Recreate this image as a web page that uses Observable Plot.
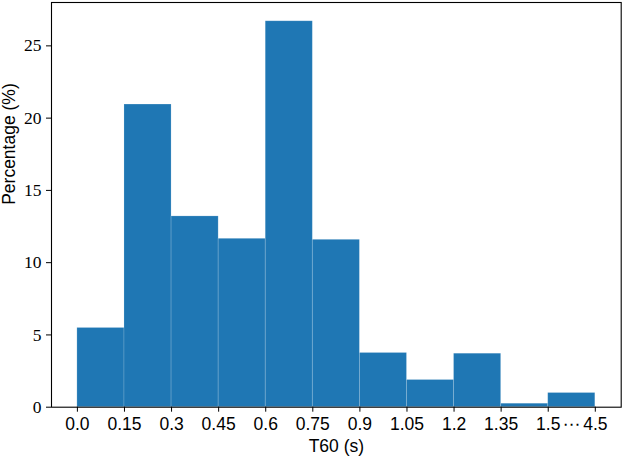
<!DOCTYPE html>
<html>
<head>
<meta charset="utf-8">
<script src="https://cdn.jsdelivr.net/npm/d3@7"></script>
<script src="https://cdn.jsdelivr.net/npm/@observablehq/plot@0.6"></script>
<style>
  body { margin: 0; background: #fff; }
  svg { display: block; }
</style>
</head>
<body>
<div id="chart"></div>
<script>
// Bin edge labels (the last bin spans 1.5 to 4.5)
const edgeLabels = ["0.0","0.15","0.3","0.45","0.6","0.75","0.9","1.05","1.2","1.35","1.5","4.5"];
// Percentage of samples per bin
const percentages = [5.48, 20.94, 13.2, 11.65, 26.7, 11.58, 3.75, 1.88, 3.70, 0.24, 0.98];
const yTicks = [0, 5, 10, 15, 20, 25];

const bins = percentages.map((v, i) => ({x1: i, x2: i + 1, y: v}));
const nEdges = edgeLabels.length;

const chart = Plot.plot({
  width: 622,
  height: 458,
  marginLeft: 51,
  marginRight: 1.3,
  marginTop: 2,
  marginBottom: 51.3,
  style: {background: "#fff", color: "#000"},
  x: {domain: [-0.55, nEdges - 1 + 0.55]},
  y: {domain: [0, 28]},
  marks: [
    Plot.rectY(bins, {x1: "x1", x2: "x2", y: "y", fill: "#1f77b4", stroke: "#ffffff", strokeOpacity: 0.2, strokeWidth: 0.8}),
    Plot.axisX(d3.range(nEdges), {
      tickFormat: i => edgeLabels[i],
      tickSize: 5, tickPadding: 5, fontSize: 17.5,
      fontFamily: "Liberation Sans, Arial, sans-serif", label: null, stroke: "#000"
    }),
    Plot.text(["\u22EF"], {x: nEdges - 1, frameAnchor: "bottom", dy: 17, dx: -15, textAnchor: "end", text: d => d, fontSize: 17.5, fontFamily: "DejaVu Sans, sans-serif", lineAnchor: "middle", clip: false}),
    Plot.axisY(yTicks, {
      tickSize: 5, tickPadding: 5, fontSize: 17.5,
      fontFamily: "Liberation Serif, 'DejaVu Serif', serif", label: null, stroke: "#000"
    }),
    Plot.text(["Percentage (%)"], {frameAnchor: "left", rotate: -90, dx: -42, text: d => d, fontSize: 17.5, fontFamily: "Liberation Sans, Arial, sans-serif", lineAnchor: "middle"}),
    Plot.text(["T60 (s)"], {frameAnchor: "bottom", dy: 39, text: d => d, fontSize: 17.5, fontFamily: "Liberation Sans, Arial, sans-serif", lineAnchor: "middle"}),
    Plot.frame({stroke: "#000", strokeWidth: 1.1})
  ]
});
document.getElementById("chart").appendChild(chart);
</script>
</body>
</html>
